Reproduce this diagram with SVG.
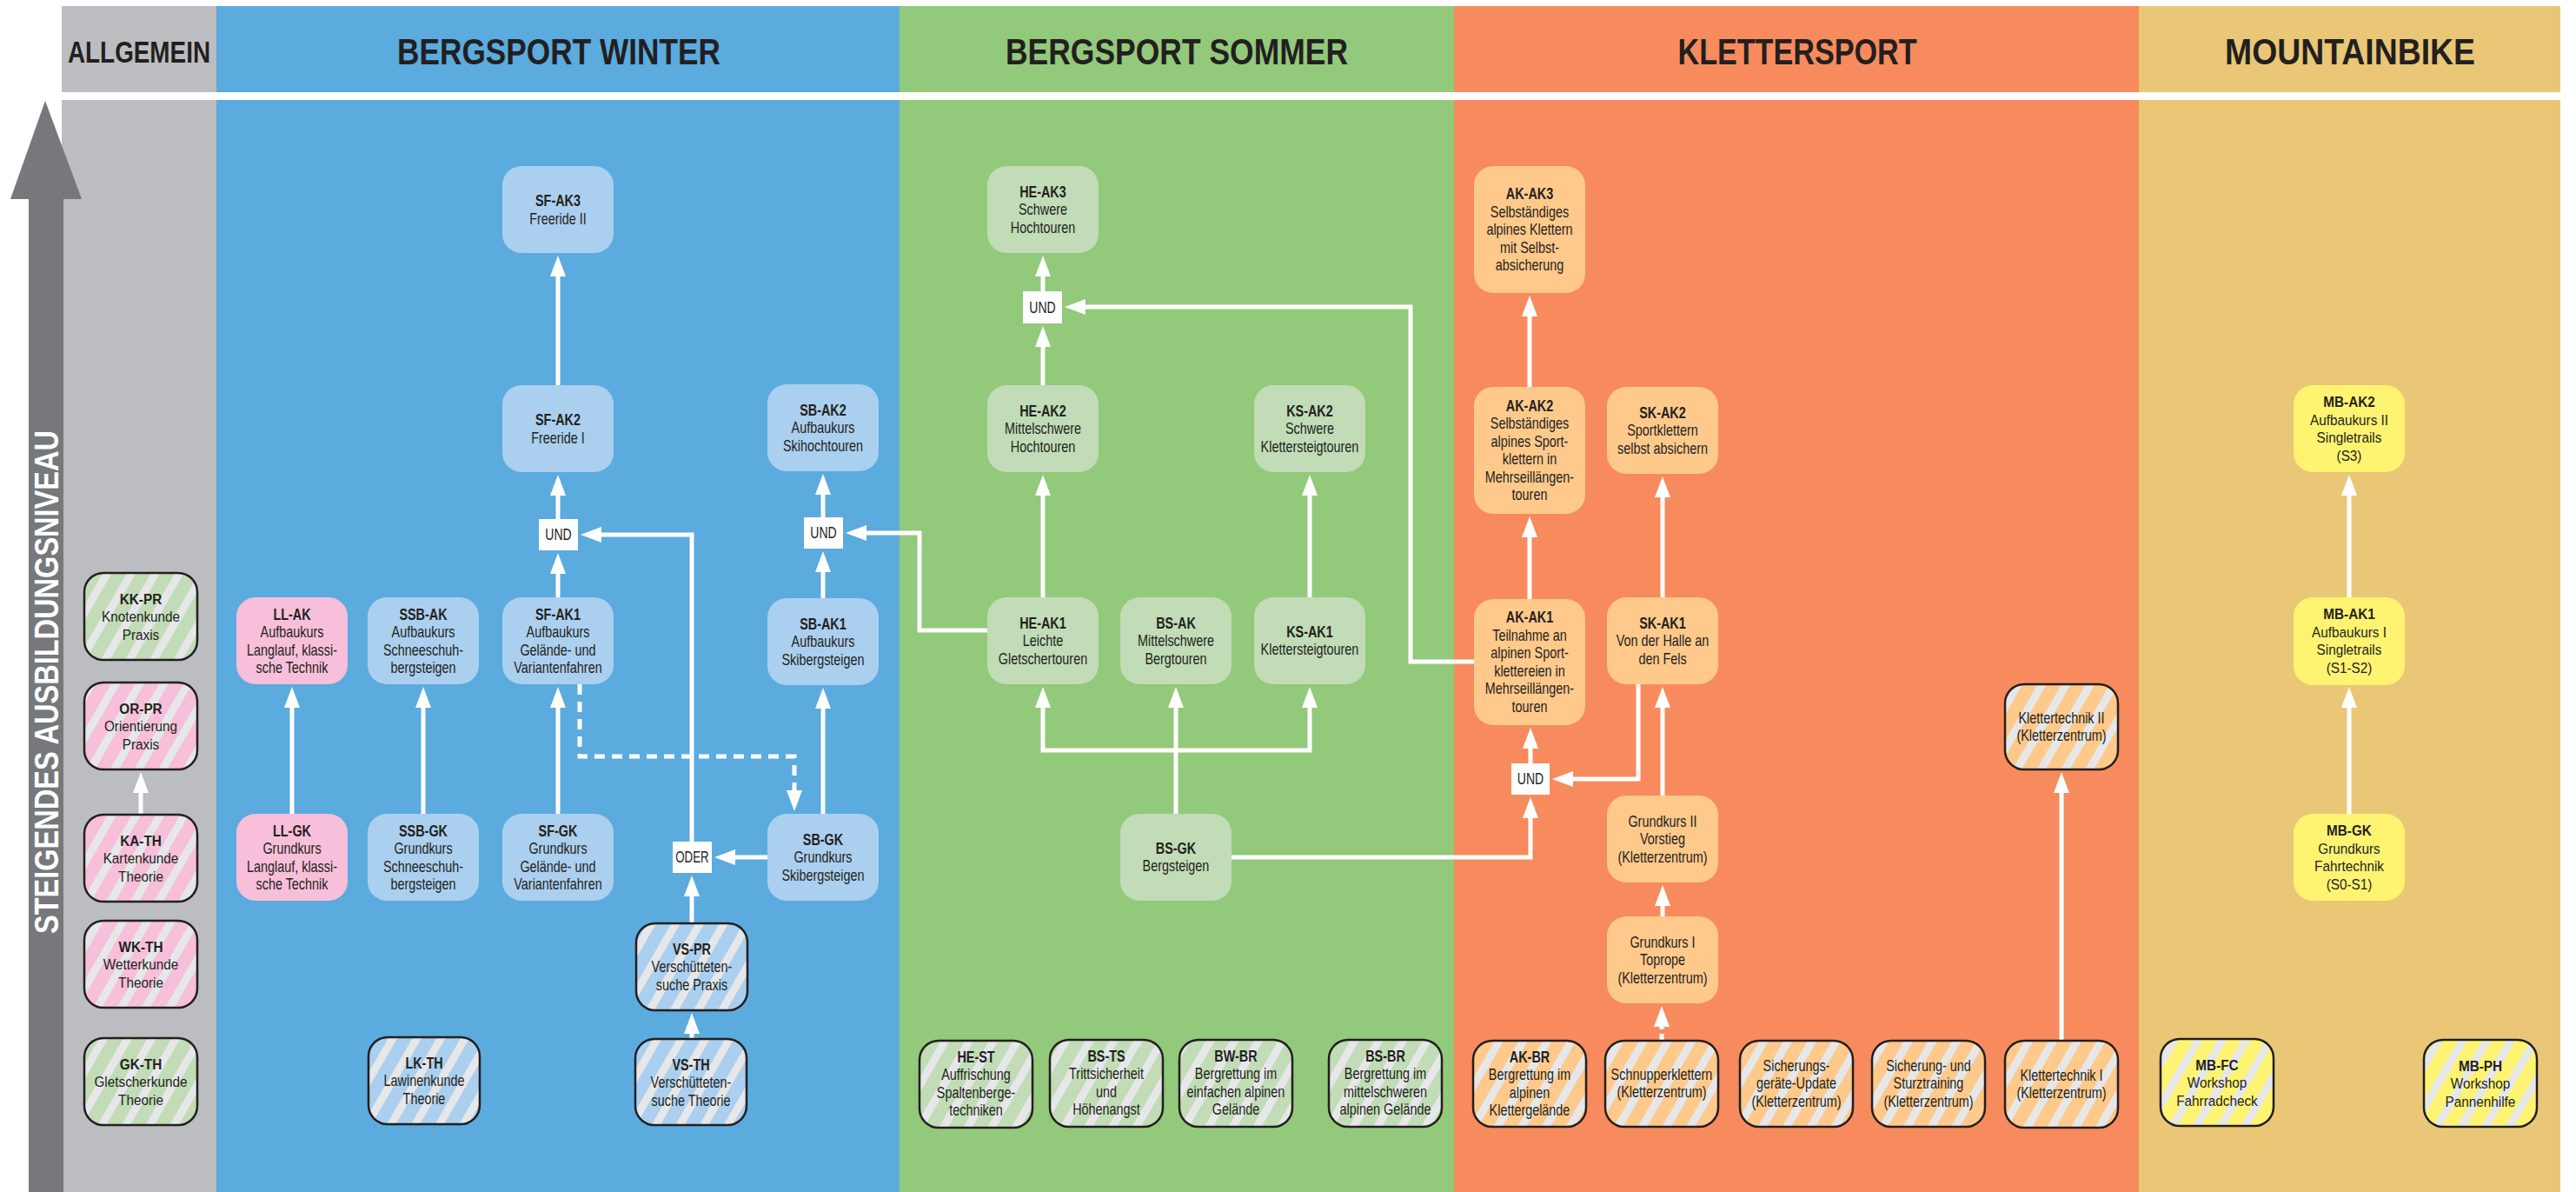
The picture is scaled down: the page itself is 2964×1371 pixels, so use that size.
<svg xmlns="http://www.w3.org/2000/svg" width="2964" height="1371" viewBox="0 0 2964 1371">
<defs>
<style>
.hd{font-family:"Liberation Sans",Arial,sans-serif;font-weight:bold;fill:#231f20;text-anchor:middle}
.t{font-family:"Liberation Sans",Arial,sans-serif;font-size:18px;fill:#231f20;text-anchor:middle}
.t2{font-size:17px}
.b{font-weight:bold}
.nb{fill:#abcfee}.np{fill:#f7bfd9}.ng{fill:#c1dcb6}.no{fill:#fec98b}.ny{fill:#fff372}
.s{stroke:#231f20;stroke-width:2.5}
.op{fill:#fff}
.c{fill:none;stroke:#fff;stroke-width:5;marker-end:url(#ah)}
.d{stroke-dasharray:12 8}
.d2{stroke-dasharray:8 5}
</style>
<marker id="ah" viewBox="0 0 24 18" markerWidth="24" markerHeight="18" refX="2" refY="9" orient="auto" markerUnits="userSpaceOnUse"><path d="M0,0 L24,9 L0,18 Z" fill="#fff"/></marker>
<pattern id="pB" patternUnits="userSpaceOnUse" width="24" height="24" patternTransform="rotate(30)"><rect width="24" height="24" fill="#abcfee"/><rect width="9" height="24" fill="#e6e7e8"/></pattern>
<pattern id="pP" patternUnits="userSpaceOnUse" width="24" height="24" patternTransform="rotate(30)"><rect width="24" height="24" fill="#f7bfd9"/><rect width="9" height="24" fill="#e6e7e8"/></pattern>
<pattern id="pG" patternUnits="userSpaceOnUse" width="24" height="24" patternTransform="rotate(30)"><rect width="24" height="24" fill="#c1dcb6"/><rect width="9" height="24" fill="#e6e7e8"/></pattern>
<pattern id="pO" patternUnits="userSpaceOnUse" width="24" height="24" patternTransform="rotate(30)"><rect width="24" height="24" fill="#fec98b"/><rect width="9" height="24" fill="#e6e7e8"/></pattern>
<pattern id="pY" patternUnits="userSpaceOnUse" width="24" height="24" patternTransform="rotate(30)"><rect width="24" height="24" fill="#fff372"/><rect width="9" height="24" fill="#e6e7e8"/></pattern>
</defs>
<rect width="2964" height="1371" fill="#fff"/>
<g id="columns">
<rect x="71" y="7" width="178" height="99" fill="#bcbdc1"/>
<rect x="249" y="7" width="786" height="99" fill="#5babdf"/>
<rect x="1035" y="7" width="638" height="99" fill="#92c97a"/>
<rect x="1673" y="7" width="788" height="99" fill="#f78b5d"/>
<rect x="2461" y="7" width="485" height="99" fill="#e9c776"/>
<rect x="71" y="115" width="178" height="1256" fill="#bcbdc1"/>
<rect x="249" y="115" width="786" height="1256" fill="#5babdf"/>
<rect x="1035" y="115" width="638" height="1256" fill="#92c97a"/>
<rect x="1673" y="115" width="788" height="1256" fill="#f78b5d"/>
<rect x="2461" y="115" width="485" height="1256" fill="#e9c776"/>
</g>
<g id="headers">
<text class="hd" x="160" y="72" font-size="35" textLength="164" lengthAdjust="spacingAndGlyphs">ALLGEMEIN</text>
<text class="hd" x="643" y="74" font-size="43" textLength="372" lengthAdjust="spacingAndGlyphs">BERGSPORT WINTER</text>
<text class="hd" x="1354" y="74" font-size="43" textLength="394" lengthAdjust="spacingAndGlyphs">BERGSPORT SOMMER</text>
<text class="hd" x="2068" y="74" font-size="43" textLength="275" lengthAdjust="spacingAndGlyphs">KLETTERSPORT</text>
<text class="hd" x="2704" y="74" font-size="43" textLength="288" lengthAdjust="spacingAndGlyphs">MOUNTAINBIKE</text>
</g>
<g id="level-arrow">
<rect x="33" y="226" width="40" height="1145" fill="#77787b"/>
<polygon points="52,116 94,229 12,229" fill="#77787b"/>
<text class="hd" transform="translate(67 784.5) rotate(-90)" x="0" y="0" font-size="39" fill="#fff" style="fill:#fff" textLength="579" lengthAdjust="spacingAndGlyphs">STEIGENDES AUSBILDUNGSNIVEAU</text>
</g>
<g id="connectors">
<path class="c" d="M162,937 V910"/>
<path class="c" d="M336,936 V812"/>
<path class="c" d="M487,936 V812"/>
<path class="c" d="M642,936 V812"/>
<path class="c" d="M947,936 V813"/>
<path class="c" d="M642,687 V658"/>
<path class="c" d="M642,597 V568"/>
<path class="c" d="M642,443 V316"/>
<path class="c" d="M947,688 V656"/>
<path class="c" d="M947,595 V567"/>
<path class="c" d="M883,986 H844"/>
<path class="c" d="M796,1062 V1029"/>
<path class="c" d="M796,1195 V1187"/>
<path class="c" d="M796,968 V615 H690"/>
<path class="c d" d="M667,787 V870 H914 V911"/>
<path class="c" d="M1136,725 H1058 V613 H995"/>
<path class="c" d="M1200,687 V568"/>
<path class="c" d="M1200,443 V397"/>
<path class="c" d="M1200,335 V316"/>
<path class="c" d="M1696,761 H1623 V353 H1247"/>
<path class="c" d="M1507,687 V568"/>
<path class="c" d="M1353,936 V812"/>
<path class="c" d="M1353,863 H1200 V812"/>
<path class="c" d="M1353,863 H1507 V812"/>
<path class="c" d="M1417,986 H1761 V939"/>
<path class="c" d="M1761,878 V859"/>
<path class="c" d="M1760,689 V616"/>
<path class="c" d="M1760,445 V362"/>
<path class="c" d="M1885,787 V896 H1808"/>
<path class="c" d="M1913,915 V812"/>
<path class="c" d="M1913,687 V570"/>
<path class="c" d="M1913,1054 V1040"/>
<path class="c d2" d="M1912,1197 V1179"/>
<path class="c" d="M2372,1197 V910"/>
<path class="c" d="M2703,936 V812"/>
<path class="c" d="M2703,687 V568"/>
</g>
<g id="operators">
<g id="und-sf"><rect class="op" x="620" y="597" width="45" height="36"/><text class="t" transform="matrix(.78 0 0 1 141.35 0)" x="642.5" y="621.5">UND</text></g>
<g id="und-sb"><rect class="op" x="925" y="595" width="45" height="36"/><text class="t" transform="matrix(.78 0 0 1 208.45 0)" x="947.5" y="619.5">UND</text></g>
<g id="oder-vs"><rect class="op" x="774" y="968" width="45" height="36"/><text class="t" transform="matrix(.74 0 0 1 207.09 0)" x="796.5" y="992.5">ODER</text></g>
<g id="und-he"><rect class="op" x="1177" y="335" width="45" height="37"/><text class="t" transform="matrix(.78 0 0 1 263.89 0)" x="1199.5" y="360">UND</text></g>
<g id="und-ak"><rect class="op" x="1739" y="878" width="44" height="36"/><text class="t" transform="matrix(.78 0 0 1 387.42 0)" x="1761" y="902.5">UND</text></g>
</g>
<g id="n-kk-pr"><rect x="97" y="659" width="130" height="100" rx="22" fill="url(#pG)" class="s"/><text class="t t2" transform="matrix(.9 0 0 1 16.2 0)"><tspan x="162" y="694.6" class="b">KK-PR</tspan><tspan x="162" y="715.1">Knotenkunde</tspan><tspan x="162" y="735.6">Praxis</tspan></text></g>
<g id="n-or-pr"><rect x="97" y="785" width="130" height="100" rx="22" fill="url(#pP)" class="s"/><text class="t t2" transform="matrix(.9 0 0 1 16.2 0)"><tspan x="162" y="820.6" class="b">OR-PR</tspan><tspan x="162" y="841.1">Orientierung</tspan><tspan x="162" y="861.6">Praxis</tspan></text></g>
<g id="n-ka-th"><rect x="97" y="937" width="130" height="100" rx="22" fill="url(#pP)" class="s"/><text class="t t2" transform="matrix(.9 0 0 1 16.2 0)"><tspan x="162" y="972.6" class="b">KA-TH</tspan><tspan x="162" y="993.1">Kartenkunde</tspan><tspan x="162" y="1013.6">Theorie</tspan></text></g>
<g id="n-wk-th"><rect x="97" y="1059" width="130" height="100" rx="22" fill="url(#pP)" class="s"/><text class="t t2" transform="matrix(.9 0 0 1 16.2 0)"><tspan x="162" y="1094.6" class="b">WK-TH</tspan><tspan x="162" y="1115.1">Wetterkunde</tspan><tspan x="162" y="1135.6">Theorie</tspan></text></g>
<g id="n-gk-th"><rect x="97" y="1194" width="130" height="100" rx="22" fill="url(#pG)" class="s"/><text class="t t2" transform="matrix(.9 0 0 1 16.2 0)"><tspan x="162" y="1229.6" class="b">GK-TH</tspan><tspan x="162" y="1250.1">Gletscherkunde</tspan><tspan x="162" y="1270.6">Theorie</tspan></text></g>
<g id="n-sf-ak3"><rect x="578" y="191" width="128" height="100" rx="22" class="nb"/><text class="t" transform="matrix(.8 0 0 1 128.4 0)"><tspan x="642" y="237" class="b">SF-AK3</tspan><tspan x="642" y="258">Freeride II</tspan></text></g>
<g id="n-sf-ak2"><rect x="578" y="443" width="128" height="100" rx="22" class="nb"/><text class="t" transform="matrix(.8 0 0 1 128.4 0)"><tspan x="642" y="489" class="b">SF-AK2</tspan><tspan x="642" y="510">Freeride I</tspan></text></g>
<g id="n-sb-ak2"><rect x="883" y="442" width="128" height="100" rx="22" class="nb"/><text class="t" transform="matrix(.8 0 0 1 189.4 0)"><tspan x="947" y="478" class="b">SB-AK2</tspan><tspan x="947" y="498.5">Aufbaukurs</tspan><tspan x="947" y="519">Skihochtouren</tspan></text></g>
<g id="n-ll-ak"><rect x="272" y="687" width="128" height="100" rx="22" class="np"/><text class="t" transform="matrix(.8 0 0 1 67.2 0)"><tspan x="336" y="713" class="b">LL-AK</tspan><tspan x="336" y="733.5">Aufbaukurs</tspan><tspan x="336" y="754">Langlauf, klassi-</tspan><tspan x="336" y="774.5">sche Technik</tspan></text></g>
<g id="n-ssb-ak"><rect x="423" y="687" width="128" height="100" rx="22" class="nb"/><text class="t" transform="matrix(.8 0 0 1 97.4 0)"><tspan x="487" y="713" class="b">SSB-AK</tspan><tspan x="487" y="733.5">Aufbaukurs</tspan><tspan x="487" y="754">Schneeschuh-</tspan><tspan x="487" y="774.5">bergsteigen</tspan></text></g>
<g id="n-sf-ak1"><rect x="578" y="687" width="128" height="100" rx="22" class="nb"/><text class="t" transform="matrix(.8 0 0 1 128.4 0)"><tspan x="642" y="713" class="b">SF-AK1</tspan><tspan x="642" y="733.5">Aufbaukurs</tspan><tspan x="642" y="754">Gelände- und</tspan><tspan x="642" y="774.5">Variantenfahren</tspan></text></g>
<g id="n-sb-ak1"><rect x="883" y="688" width="128" height="100" rx="22" class="nb"/><text class="t" transform="matrix(.8 0 0 1 189.4 0)"><tspan x="947" y="724" class="b">SB-AK1</tspan><tspan x="947" y="744.5">Aufbaukurs</tspan><tspan x="947" y="765">Skibergsteigen</tspan></text></g>
<g id="n-ll-gk"><rect x="272" y="936" width="128" height="100" rx="22" class="np"/><text class="t" transform="matrix(.8 0 0 1 67.2 0)"><tspan x="336" y="962" class="b">LL-GK</tspan><tspan x="336" y="982.5">Grundkurs</tspan><tspan x="336" y="1003">Langlauf, klassi-</tspan><tspan x="336" y="1023.5">sche Technik</tspan></text></g>
<g id="n-ssb-gk"><rect x="423" y="936" width="128" height="100" rx="22" class="nb"/><text class="t" transform="matrix(.8 0 0 1 97.4 0)"><tspan x="487" y="962" class="b">SSB-GK</tspan><tspan x="487" y="982.5">Grundkurs</tspan><tspan x="487" y="1003">Schneeschuh-</tspan><tspan x="487" y="1023.5">bergsteigen</tspan></text></g>
<g id="n-sf-gk"><rect x="578" y="936" width="128" height="100" rx="22" class="nb"/><text class="t" transform="matrix(.8 0 0 1 128.4 0)"><tspan x="642" y="962" class="b">SF-GK</tspan><tspan x="642" y="982.5">Grundkurs</tspan><tspan x="642" y="1003">Gelände- und</tspan><tspan x="642" y="1023.5">Variantenfahren</tspan></text></g>
<g id="n-sb-gk"><rect x="883" y="936" width="128" height="100" rx="22" class="nb"/><text class="t" transform="matrix(.8 0 0 1 189.4 0)"><tspan x="947" y="972" class="b">SB-GK</tspan><tspan x="947" y="992.5">Grundkurs</tspan><tspan x="947" y="1013">Skibergsteigen</tspan></text></g>
<g id="n-vs-pr"><rect x="732" y="1062" width="128" height="100" rx="22" fill="url(#pB)" class="s"/><text class="t" transform="matrix(.8 0 0 1 159.2 0)"><tspan x="796" y="1098" class="b">VS-PR</tspan><tspan x="796" y="1118.5">Verschütteten-</tspan><tspan x="796" y="1139">suche Praxis</tspan></text></g>
<g id="n-vs-th"><rect x="731" y="1195" width="128" height="99" rx="22" fill="url(#pB)" class="s"/><text class="t" transform="matrix(.8 0 0 1 159 0)"><tspan x="795" y="1231" class="b">VS-TH</tspan><tspan x="795" y="1251.5">Verschütteten-</tspan><tspan x="795" y="1272">suche Theorie</tspan></text></g>
<g id="n-lk-th"><rect x="424" y="1193" width="128" height="100" rx="22" fill="url(#pB)" class="s"/><text class="t" transform="matrix(.8 0 0 1 97.6 0)"><tspan x="488" y="1229" class="b">LK-TH</tspan><tspan x="488" y="1249.5">Lawinenkunde</tspan><tspan x="488" y="1270">Theorie</tspan></text></g>
<g id="n-he-ak3"><rect x="1136" y="191" width="128" height="100" rx="22" class="ng"/><text class="t" transform="matrix(.8 0 0 1 240 0)"><tspan x="1200" y="227" class="b">HE-AK3</tspan><tspan x="1200" y="247.5">Schwere</tspan><tspan x="1200" y="268">Hochtouren</tspan></text></g>
<g id="n-he-ak2"><rect x="1136" y="443" width="128" height="100" rx="22" class="ng"/><text class="t" transform="matrix(.8 0 0 1 240 0)"><tspan x="1200" y="479" class="b">HE-AK2</tspan><tspan x="1200" y="499.5">Mittelschwere</tspan><tspan x="1200" y="520">Hochtouren</tspan></text></g>
<g id="n-ks-ak2"><rect x="1443" y="443" width="128" height="100" rx="22" class="ng"/><text class="t" transform="matrix(.8 0 0 1 301.4 0)"><tspan x="1507" y="479" class="b">KS-AK2</tspan><tspan x="1507" y="499.5">Schwere</tspan><tspan x="1507" y="520">Klettersteigtouren</tspan></text></g>
<g id="n-he-ak1"><rect x="1136" y="687" width="128" height="100" rx="22" class="ng"/><text class="t" transform="matrix(.8 0 0 1 240 0)"><tspan x="1200" y="723" class="b">HE-AK1</tspan><tspan x="1200" y="743.5">Leichte</tspan><tspan x="1200" y="764">Gletschertouren</tspan></text></g>
<g id="n-bs-ak"><rect x="1289" y="687" width="128" height="100" rx="22" class="ng"/><text class="t" transform="matrix(.8 0 0 1 270.6 0)"><tspan x="1353" y="723" class="b">BS-AK</tspan><tspan x="1353" y="743.5">Mittelschwere</tspan><tspan x="1353" y="764">Bergtouren</tspan></text></g>
<g id="n-ks-ak1"><rect x="1443" y="687" width="128" height="100" rx="22" class="ng"/><text class="t" transform="matrix(.8 0 0 1 301.4 0)"><tspan x="1507" y="733" class="b">KS-AK1</tspan><tspan x="1507" y="753.5">Klettersteigtouren</tspan></text></g>
<g id="n-bs-gk"><rect x="1289" y="936" width="128" height="100" rx="22" class="ng"/><text class="t" transform="matrix(.8 0 0 1 270.6 0)"><tspan x="1353" y="982" class="b">BS-GK</tspan><tspan x="1353" y="1002.5">Bergsteigen</tspan></text></g>
<g id="n-he-st"><rect x="1058" y="1197" width="130" height="100" rx="22" fill="url(#pG)" class="s"/><text class="t" transform="matrix(.8 0 0 1 224.6 0)"><tspan x="1123" y="1222" class="b">HE-ST</tspan><tspan x="1123" y="1242.5">Auffrischung</tspan><tspan x="1123" y="1263">Spaltenberge-</tspan><tspan x="1123" y="1283.5">techniken</tspan></text></g>
<g id="n-bs-ts"><rect x="1208" y="1196" width="130" height="100" rx="22" fill="url(#pG)" class="s"/><text class="t" transform="matrix(.8 0 0 1 254.6 0)"><tspan x="1273" y="1221" class="b">BS-TS</tspan><tspan x="1273" y="1241.5">Trittsicherheit</tspan><tspan x="1273" y="1262">und</tspan><tspan x="1273" y="1282.5">Höhenangst</tspan></text></g>
<g id="n-bw-br"><rect x="1357" y="1196" width="130" height="100" rx="22" fill="url(#pG)" class="s"/><text class="t" transform="matrix(.8 0 0 1 284.4 0)"><tspan x="1422" y="1221" class="b">BW-BR</tspan><tspan x="1422" y="1241.5">Bergrettung im</tspan><tspan x="1422" y="1262">einfachen alpinen</tspan><tspan x="1422" y="1282.5">Gelände</tspan></text></g>
<g id="n-bs-br"><rect x="1529" y="1196" width="130" height="100" rx="22" fill="url(#pG)" class="s"/><text class="t" transform="matrix(.8 0 0 1 318.8 0)"><tspan x="1594" y="1221" class="b">BS-BR</tspan><tspan x="1594" y="1241.5">Bergrettung im</tspan><tspan x="1594" y="1262">mittelschweren</tspan><tspan x="1594" y="1282.5">alpinen Gelände</tspan></text></g>
<g id="n-ak-ak3"><rect x="1696" y="191" width="128" height="146" rx="22" class="no"/><text class="t" transform="matrix(.8 0 0 1 352 0)"><tspan x="1760" y="229.5" class="b">AK-AK3</tspan><tspan x="1760" y="250">Selbständiges</tspan><tspan x="1760" y="270.5">alpines Klettern</tspan><tspan x="1760" y="291">mit Selbst-</tspan><tspan x="1760" y="311.5">absicherung</tspan></text></g>
<g id="n-ak-ak2"><rect x="1696" y="445" width="128" height="146" rx="22" class="no"/><text class="t" transform="matrix(.8 0 0 1 352 0)"><tspan x="1760" y="473" class="b">AK-AK2</tspan><tspan x="1760" y="493.5">Selbständiges</tspan><tspan x="1760" y="514">alpines Sport-</tspan><tspan x="1760" y="534.5">klettern in</tspan><tspan x="1760" y="555">Mehrseillängen-</tspan><tspan x="1760" y="575.5">touren</tspan></text></g>
<g id="n-ak-ak1"><rect x="1696" y="689" width="128" height="145" rx="22" class="no"/><text class="t" transform="matrix(.8 0 0 1 352 0)"><tspan x="1760" y="716.5" class="b">AK-AK1</tspan><tspan x="1760" y="737">Teilnahme an</tspan><tspan x="1760" y="757.5">alpinen Sport-</tspan><tspan x="1760" y="778">klettereien in</tspan><tspan x="1760" y="798.5">Mehrseillängen-</tspan><tspan x="1760" y="819">touren</tspan></text></g>
<g id="n-sk-ak2"><rect x="1849" y="445" width="128" height="100" rx="22" class="no"/><text class="t" transform="matrix(.8 0 0 1 382.6 0)"><tspan x="1913" y="481" class="b">SK-AK2</tspan><tspan x="1913" y="501.5">Sportklettern</tspan><tspan x="1913" y="522">selbst absichern</tspan></text></g>
<g id="n-sk-ak1"><rect x="1849" y="687" width="128" height="100" rx="22" class="no"/><text class="t" transform="matrix(.8 0 0 1 382.6 0)"><tspan x="1913" y="723" class="b">SK-AK1</tspan><tspan x="1913" y="743.5">Von der Halle an</tspan><tspan x="1913" y="764">den Fels</tspan></text></g>
<g id="n-gk2"><rect x="1849" y="915" width="128" height="100" rx="22" class="no"/><text class="t" transform="matrix(.8 0 0 1 382.6 0)"><tspan x="1913" y="951">Grundkurs II</tspan><tspan x="1913" y="971.5">Vorstieg</tspan><tspan x="1913" y="992">(Kletterzentrum)</tspan></text></g>
<g id="n-gk1"><rect x="1849" y="1054" width="128" height="100" rx="22" class="no"/><text class="t" transform="matrix(.8 0 0 1 382.6 0)"><tspan x="1913" y="1090">Grundkurs I</tspan><tspan x="1913" y="1110.5">Toprope</tspan><tspan x="1913" y="1131">(Kletterzentrum)</tspan></text></g>
<g id="n-kt2"><rect x="2307" y="787" width="130" height="98" rx="22" fill="url(#pO)" class="s"/><text class="t" transform="matrix(.8 0 0 1 474.4 0)"><tspan x="2372" y="832">Klettertechnik II</tspan><tspan x="2372" y="852.5">(Kletterzentrum)</tspan></text></g>
<g id="n-ak-br"><rect x="1695" y="1197" width="130" height="99" rx="22" fill="url(#pO)" class="s"/><text class="t" transform="matrix(.8 0 0 1 352 0)"><tspan x="1760" y="1222" class="b">AK-BR</tspan><tspan x="1760" y="1242.5">Bergrettung im</tspan><tspan x="1760" y="1263">alpinen</tspan><tspan x="1760" y="1283.5">Klettergelände</tspan></text></g>
<g id="n-schnupper"><rect x="1847" y="1197" width="130" height="99" rx="22" fill="url(#pO)" class="s"/><text class="t" transform="matrix(.8 0 0 1 382.4 0)"><tspan x="1912" y="1242">Schnupperklettern</tspan><tspan x="1912" y="1262.5">(Kletterzentrum)</tspan></text></g>
<g id="n-sich-update"><rect x="2002" y="1197" width="130" height="99" rx="22" fill="url(#pO)" class="s"/><text class="t" transform="matrix(.8 0 0 1 413.4 0)"><tspan x="2067" y="1232">Sicherungs-</tspan><tspan x="2067" y="1252.5">geräte-Update</tspan><tspan x="2067" y="1273">(Kletterzentrum)</tspan></text></g>
<g id="n-sturz"><rect x="2154" y="1197" width="130" height="99" rx="22" fill="url(#pO)" class="s"/><text class="t" transform="matrix(.8 0 0 1 443.8 0)"><tspan x="2219" y="1232">Sicherung- und</tspan><tspan x="2219" y="1252.5">Sturztraining</tspan><tspan x="2219" y="1273">(Kletterzentrum)</tspan></text></g>
<g id="n-kt1"><rect x="2307" y="1197" width="130" height="100" rx="22" fill="url(#pO)" class="s"/><text class="t" transform="matrix(.8 0 0 1 474.4 0)"><tspan x="2372" y="1243">Klettertechnik I</tspan><tspan x="2372" y="1263.5">(Kletterzentrum)</tspan></text></g>
<g id="n-mb-ak2"><rect x="2639" y="443" width="128" height="100" rx="22" class="ny"/><text class="t t2" transform="matrix(.9 0 0 1 270.3 0)"><tspan x="2703" y="468.4" class="b">MB-AK2</tspan><tspan x="2703" y="488.9">Aufbaukurs II</tspan><tspan x="2703" y="509.4">Singletrails</tspan><tspan x="2703" y="529.9">(S3)</tspan></text></g>
<g id="n-mb-ak1"><rect x="2639" y="687" width="128" height="101" rx="22" class="ny"/><text class="t t2" transform="matrix(.9 0 0 1 270.3 0)"><tspan x="2703" y="712.4" class="b">MB-AK1</tspan><tspan x="2703" y="732.9">Aufbaukurs I</tspan><tspan x="2703" y="753.4">Singletrails</tspan><tspan x="2703" y="773.9">(S1-S2)</tspan></text></g>
<g id="n-mb-gk"><rect x="2639" y="936" width="128" height="100" rx="22" class="ny"/><text class="t t2" transform="matrix(.9 0 0 1 270.3 0)"><tspan x="2703" y="961.4" class="b">MB-GK</tspan><tspan x="2703" y="981.9">Grundkurs</tspan><tspan x="2703" y="1002.4">Fahrtechnik</tspan><tspan x="2703" y="1022.9">(S0-S1)</tspan></text></g>
<g id="n-mb-fc"><rect x="2486" y="1195" width="130" height="100" rx="22" fill="url(#pY)" class="s"/><text class="t t2" transform="matrix(.9 0 0 1 255.1 0)"><tspan x="2551" y="1230.6" class="b">MB-FC</tspan><tspan x="2551" y="1251.1">Workshop</tspan><tspan x="2551" y="1271.6">Fahrradcheck</tspan></text></g>
<g id="n-mb-ph"><rect x="2789" y="1196" width="130" height="100" rx="22" fill="url(#pY)" class="s"/><text class="t t2" transform="matrix(.9 0 0 1 285.4 0)"><tspan x="2854" y="1231.6" class="b">MB-PH</tspan><tspan x="2854" y="1252.1">Workshop</tspan><tspan x="2854" y="1272.6">Pannenhilfe</tspan></text></g>
</svg>
